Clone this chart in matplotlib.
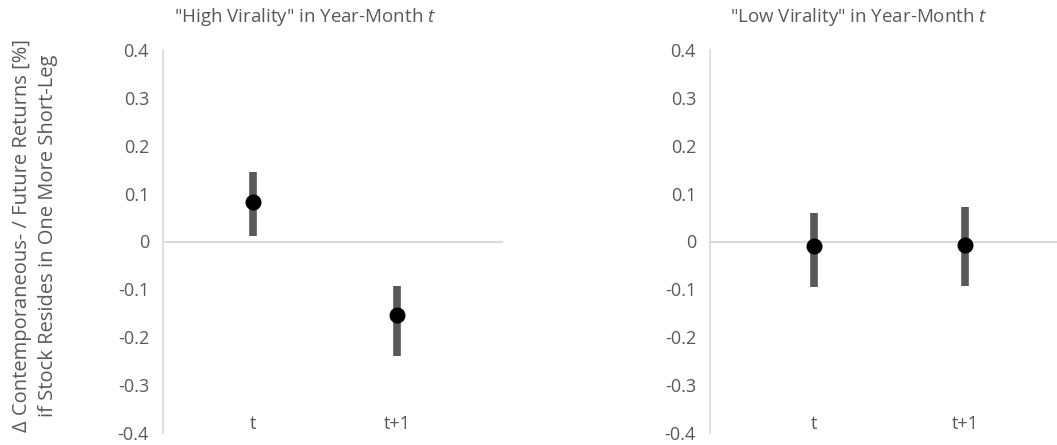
import matplotlib
matplotlib.use("Agg")
import matplotlib.pyplot as plt

plt.rcParams['font.family'] = ['Open Sans', 'DejaVu Sans']
plt.rcParams['mathtext.fontset'] = 'custom'
plt.rcParams['mathtext.it'] = 'Open Sans:italic'
plt.rcParams['mathtext.rm'] = 'Open Sans'

categories = ["t", "t+1"]
titles = ['"High Virality" in Year-Month $\\mathit{t}$',
          '"Low Virality" in Year-Month $\\mathit{t}$']
high_est = [0.082, -0.154]
high_lo = [0.011, -0.240]
high_hi = [0.146, -0.092]
low_est = [-0.010, -0.008]
low_lo = [-0.095, -0.093]
low_hi = [0.059, 0.073]
yticks = [0.4, 0.3, 0.2, 0.1, 0.0, -0.1, -0.2, -0.3, -0.4]
ytick_labels = ["0.4", "0.3", "0.2", "0.1", "0", "-0.1", "-0.2", "-0.3", "-0.4"]
ylabel = "\u0394 Contemporaneous- / Future Returns [%]\nif Stock Resides in One More Short-Leg"

W, H = 1057, 445
fig = plt.figure(figsize=(W / 100, H / 100), dpi=100)

text_c = "#595959"
axis_c = "#d9d9d9"
bar_c = "#595959"

panels = [
    dict(rect=(163, 503), xlim=(-0.625, 1.736), est=high_est, lo=high_lo, hi=high_hi,
         title=titles[0], tx=305),
    dict(rect=(710, 1057), xlim=(-0.689, 1.61), est=low_est, lo=low_lo, hi=low_hi,
         title=titles[1], tx=859),
]

y_top, y_bot = 50, 433
for p in panels:
    x0, x1 = p["rect"]
    ax = fig.add_axes([x0 / W, (H - y_bot) / H, (x1 - x0) / W, (y_bot - y_top) / H])
    ax.set_xlim(*p["xlim"])
    ax.set_ylim(-0.4, 0.4)
    for s in ["top", "right", "bottom"]:
        ax.spines[s].set_visible(False)
    ax.spines["left"].set_color(axis_c)
    ax.spines["left"].set_linewidth(1.2)
    ax.axhline(0, color=axis_c, lw=1.5, zorder=1)
    ax.set_yticks(yticks)
    ax.set_yticklabels(ytick_labels)
    ax.tick_params(axis="y", length=0, pad=10, labelsize=13, labelcolor=text_c)
    ax.set_xticks([])
    xs = list(range(len(categories)))
    ax.vlines(xs, p["lo"], p["hi"], color=bar_c, lw=5.5, zorder=2)
    ax.plot(xs, p["est"], "o", color="black", ms=10.5, zorder=3)
    for x, c in zip(xs, categories):
        ax.text(x, -0.382, c, ha="center", va="center", fontsize=13, color=text_c)
    fig.text(p["tx"] / W, 1 - 17 / H, p["title"], ha="center", va="center",
             fontsize=13.5, color=text_c)

fig.text(35 / W, 1 - 236 / H, ylabel, rotation=90, ha="center", va="center",
         fontsize=14.5, color=text_c, linespacing=1.45, multialignment="center")

fig.savefig("out.png", dpi=100)
